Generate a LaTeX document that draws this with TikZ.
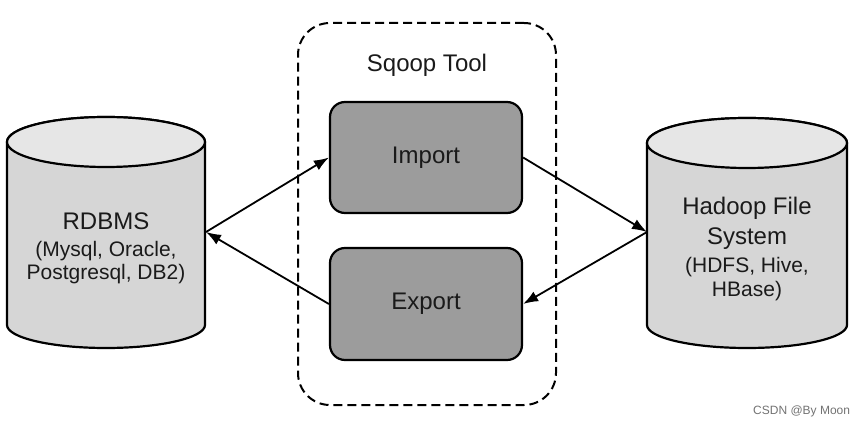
\documentclass[tikz,border=0pt]{standalone}
\usepackage{fontspec}
\setmainfont{Liberation Sans}
\usetikzlibrary{arrows.meta}
\definecolor{cylbody}{HTML}{D6D6D6}
\definecolor{cyltop}{HTML}{E6E6E6}
\definecolor{boxfill}{HTML}{9C9C9C}
\definecolor{inktext}{HTML}{1A1A1A}
\tikzset{
  cylline/.style={line width=2.2pt, draw=black},
  toolbox/.style={draw=black, line width=2.2pt, fill=boxfill, rounded corners=15pt,
    minimum width=192pt, inner sep=0pt, font=\fontsize{24}{28}\selectfont, text=inktext},
  bigtxt/.style={anchor=base, inner sep=0pt, font=\fontsize{24}{28}\selectfont, text=inktext},
  smalltxt/.style={anchor=base, inner sep=0pt, font=\fontsize{21}{25}\selectfont, text=inktext},
  flow/.style={line width=1.8pt, -{Latex[length=15pt,width=11pt]}},
  frame/.style={draw=black, line width=2pt, dash pattern=on 9pt off 5pt, rounded corners=32pt}
}
\begin{document}
\begin{tikzpicture}[x=1pt,y=1pt]
\useasboundingbox (0,0) rectangle (865,426);
\fill[white] (0,0) rectangle (865,426);

% RDBMS cylinder
\filldraw[cylline, fill=cylbody] (7,284) -- (7,101)
  arc[start angle=180, end angle=360, x radius=99, y radius=23] -- (205,284)
  arc[start angle=0, end angle=180, x radius=99, y radius=25] -- cycle;
\filldraw[cylline, fill=cyltop] (106,284) ellipse[x radius=99, y radius=25];

% Hadoop cylinder
\filldraw[cylline, fill=cylbody] (647,283) -- (647,101)
  arc[start angle=180, end angle=360, x radius=100, y radius=23] -- (847,283)
  arc[start angle=0, end angle=180, x radius=100, y radius=25] -- cycle;
\filldraw[cylline, fill=cyltop] (747,283) ellipse[x radius=100, y radius=25];

% texts in cylinders
\node[bigtxt] (r1) at (106,196) {RDBMS};
\node[smalltxt] (r2) at (106,169) {(Mysql, Oracle,};
\node[smalltxt] (r3) at (106,146) {Postgresql, DB2)};

\node[bigtxt] (h1) at (747,211) {Hadoop File};
\node[bigtxt] (h2) at (747,181) {System};
\node[smalltxt] (h3) at (747,153) {(HDFS, Hive,};
\node[smalltxt] (h4) at (747,129) {HBase)};

% Sqoop tool frame
\node[frame, minimum width=258pt, minimum height=382pt, inner sep=0pt] (sqoop) at (427,212) {};
\node[bigtxt] (sqooplabel) at (427,354) {Sqoop Tool};

% Import / Export
\node[toolbox, minimum height=111pt] (import) at (426,268.5) {Import};
\node[toolbox, minimum height=112pt] (export) at (426,122) {Export};

% connection points
\coordinate (rdbmsE) at (206,194);
\coordinate (hdfsW) at (647,194);

% connectors
\draw[flow] (rdbmsE) -- (import.west);
\draw[flow] (export.west) -- (rdbmsE);
\draw[flow] (import.east) -- (hdfsW);
\draw[flow] (hdfsW) -- (export.east);

% watermark
\node[anchor=base west, inner sep=0pt, font=\fontsize{12}{14}\selectfont, text=black!55] (wm) at (753,12) {CSDN @By Moon};
\end{tikzpicture}
\end{document}
